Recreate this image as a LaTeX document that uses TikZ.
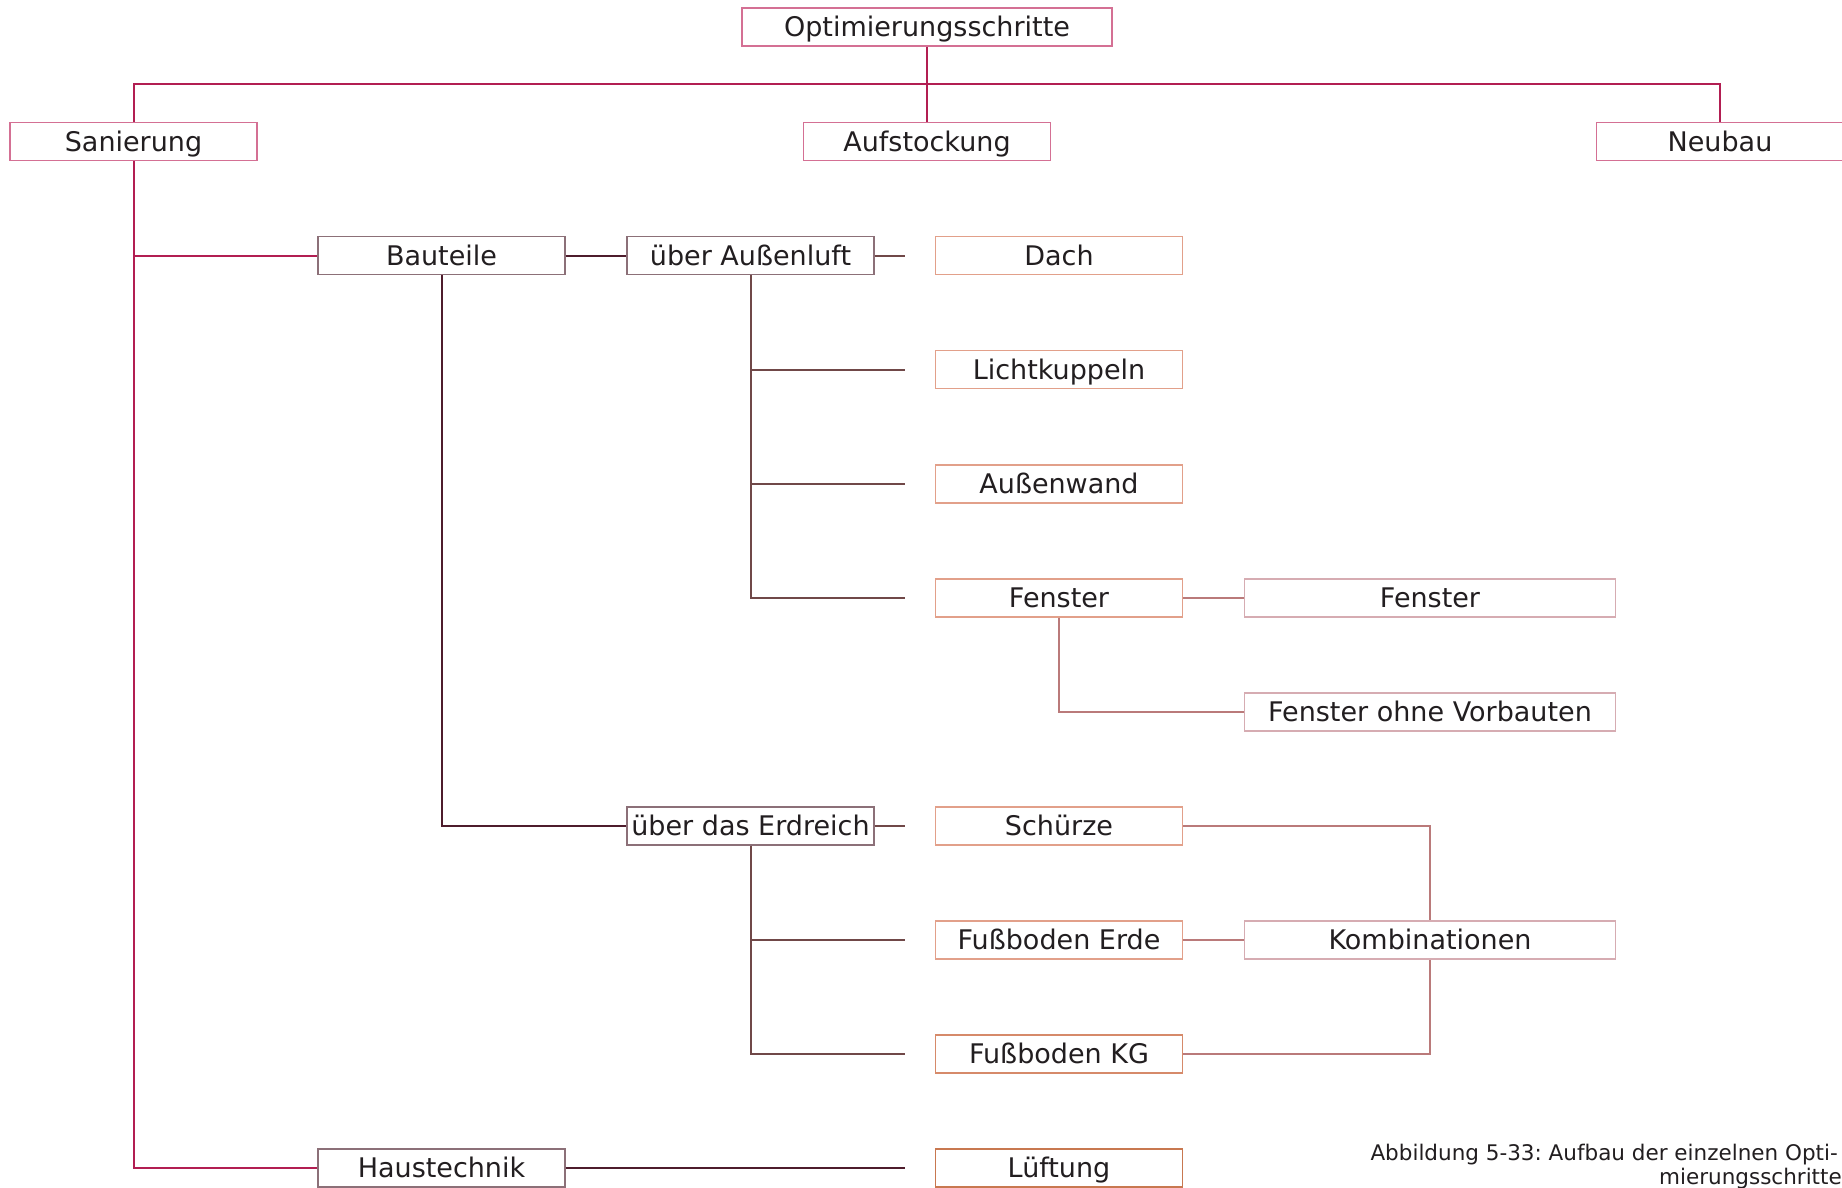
\documentclass[tikz,border=0pt]{standalone}
\usepackage{fontspec}
\setmainfont{DejaVu Sans}
\begin{document}
\definecolor{crim}{RGB}{178,30,82}
\definecolor{topbox}{RGB}{212,112,148}
\definecolor{midbox}{RGB}{140,112,120}
\definecolor{darkline}{RGB}{78,28,44}
\definecolor{brownline}{RGB}{112,72,72}
\definecolor{leafbox}{RGB}{226,160,138}
\definecolor{leafboxb}{RGB}{214,138,106}
\definecolor{airbox}{RGB}{200,120,80}
\definecolor{sideline}{RGB}{186,122,122}
\definecolor{sidebox}{RGB}{214,172,178}
\definecolor{txt}{RGB}{34,30,32}
\begin{tikzpicture}[x=1pt,y=-1pt,
  every node/.style={text=txt,font=\fontsize{27}{32}\selectfont},
  box/.style={draw=#1,rectangle,line width=1.3pt,minimum height=38pt,inner sep=0pt,
    text height=22pt,text depth=2.5pt},
  narrow/.style={box=#1,minimum width=247pt},
  wide/.style={box=#1,minimum width=371pt},
  conn/.style={line width=2pt,draw=#1},
  gap/.style={shorten >=30pt}]
\useasboundingbox (0,0) rectangle (1842,1188);
\fill[white] (0,0) rectangle (1842,1188);

% top level
\node[box=topbox,minimum width=370pt] (opt) at (927,27) {Optimierungsschritte};
\node[narrow=topbox] (san) at (133.5,141.5) {Sanierung};
\node[narrow=topbox] (auf) at (927,141.5) {Aufstockung};
\node[narrow=topbox] (neu) at (1720,141.5) {Neubau};

% second level
\node[narrow=midbox] (bau) at (441.5,255.5) {Bauteile};
\node[narrow=midbox] (haus) at (441.5,1168) {Haustechnik};
\node[narrow=midbox] (ual) at (750.5,255.5) {über Außenluft};
\node[narrow=midbox] (uer) at (750.5,826) {über das Erdreich};

% components
\node[narrow=leafbox] (dach) at (1059,255.5) {Dach};
\node[narrow=leafbox] (licht) at (1059,369.5) {Lichtkuppeln};
\node[narrow=leafbox] (wand) at (1059,484) {Außenwand};
\node[narrow=leafbox] (fen) at (1059,598) {Fenster};
\node[narrow=leafbox] (sch) at (1059,826) {Schürze};
\node[narrow=leafbox] (fbe) at (1059,940) {Fußboden Erde};
\node[narrow=leafboxb] (fkg) at (1059,1054) {Fußboden KG};
\node[narrow=airbox] (lue) at (1059,1168) {Lüftung};

% variants
\node[wide=sidebox] (fen2) at (1430,598) {Fenster};
\node[wide=sidebox] (fov) at (1430,712) {Fenster ohne Vorbauten};
\node[wide=sidebox] (komb) at (1430,940) {Kombinationen};

% caption
\node[anchor=base east,inner sep=0pt,font=\fontsize{21.5}{25}\selectfont] (cap1) at (1838,1160) {Abbildung 5-33:\ Aufbau der einzelnen Opti-};
\node[anchor=base east,inner sep=0pt,font=\fontsize{21.5}{25}\selectfont] (cap2) at (1842,1184) {mierungsschritte};

% connectors: top level
\coordinate (bus) at (133.5,84.5);
\draw[conn=crim] (san.north) -- (bus) -| (neu.north);
\draw[conn=crim] (opt.south) -- (auf.north);
\draw[conn=crim] (san.south) |- (bau.west);
\draw[conn=crim] (san.south) |- (haus.west);

% connectors: second level
\draw[conn=darkline] (bau.east) -- (ual.west);
\draw[conn=darkline] (bau.south) |- (uer.west);
\draw[conn=darkline,gap] (haus.east) -- (lue.west);

% connectors: components
\draw[conn=brownline,gap] (ual.east) -- (dach.west);
\draw[conn=brownline,gap] (ual.south) |- (licht.west);
\draw[conn=brownline,gap] (ual.south) |- (wand.west);
\draw[conn=brownline,gap] (ual.south) |- (fen.west);
\draw[conn=brownline,gap] (uer.east) -- (sch.west);
\draw[conn=brownline,gap] (uer.south) |- (fbe.west);
\draw[conn=brownline,gap] (uer.south) |- (fkg.west);

% connectors: variants
\draw[conn=sideline] (fen.east) -- (fen2.west);
\draw[conn=sideline] (fen.south) |- (fov.west);
\draw[conn=sideline] (sch.east) -| (komb.north);
\draw[conn=sideline] (fbe.east) -- (komb.west);
\draw[conn=sideline] (fkg.east) -| (komb.south);
\end{tikzpicture}
\end{document}
